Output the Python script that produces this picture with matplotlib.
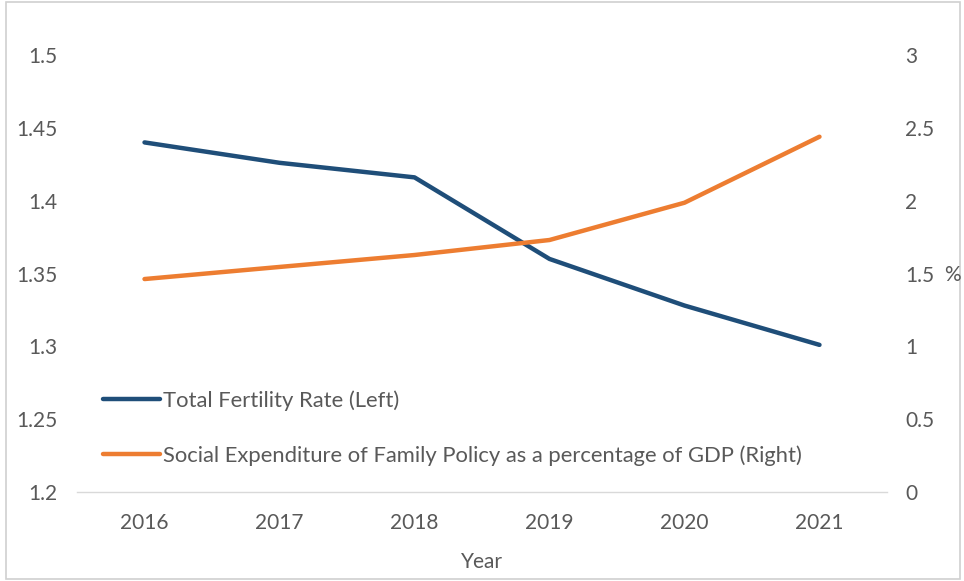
import matplotlib
matplotlib.use("Agg")
import matplotlib.pyplot as plt
from matplotlib.patches import Rectangle

years = ["2016", "2017", "2018", "2019", "2020", "2021"]
fertility = [1.440, 1.426, 1.416, 1.360, 1.328, 1.301]
family_spend = [1.462, 1.545, 1.627, 1.730, 1.986, 2.439]
left_ticks = [1.2, 1.25, 1.3, 1.35, 1.4, 1.45, 1.5]
left_labels = ["1.2", "1.25", "1.3", "1.35", "1.4", "1.45", "1.5"]
right_ticks = [0, 0.5, 1, 1.5, 2, 2.5, 3]
right_labels = ["0", "0.5", "1", "1.5", "2", "2.5", "3"]

plt.rcParams['font.family'] = ['Lato', 'DejaVu Sans']
tc = '#595959'
fs = 15

fig = plt.figure(figsize=(9.64, 5.81), dpi=100)
fig.patches.append(Rectangle((0.006, 0.004), 0.99, 0.992, transform=fig.transFigure,
                             fill=False, edgecolor='#d0d0d0', linewidth=1.2))
ax = fig.add_axes([0.0799, 0.1532, 0.8402, 0.7521])
ax2 = ax.twinx()

x = list(range(len(years)))
l1, = ax.plot(x, fertility, color='#1F4E79', linewidth=3.2, solid_capstyle='round',
              label='Total Fertility Rate (Left)', zorder=3)
l2, = ax2.plot(x, family_spend, color='#ED7D31', linewidth=3.2, solid_capstyle='round',
               label='Social Expenditure of Family Policy as a percentage of GDP (Right)', zorder=3)

ax.set_xlim(-0.5, len(years) - 0.5)
ax.set_ylim(1.2, 1.5)
ax2.set_ylim(0, 3)
ax.set_xticks(x)
ax.set_xticklabels(years)
ax.set_yticks(left_ticks)
ax.set_yticklabels(left_labels)
ax2.set_yticks(right_ticks)
ax2.set_yticklabels(right_labels)

for a in (ax, ax2):
    for s in a.spines.values():
        s.set_visible(False)
    a.tick_params(length=0, colors=tc, labelsize=fs)
ax.spines['bottom'].set_visible(True)
ax.spines['bottom'].set_color('#d9d9d9')
ax.spines['bottom'].set_linewidth(1)
ax.tick_params(axis='x', pad=15)
ax.tick_params(axis='y', pad=14)
ax2.tick_params(axis='y', pad=13)

ax.set_xlabel('Year', color=tc, fontsize=fs, labelpad=14)
fig.text(0.997, 0.5267, '%', color=tc, fontsize=fs, ha='right', va='center')

leg = ax.legend(handles=[l1, l2], loc='lower left', bbox_to_anchor=(0.032, 0.06),
                frameon=False, fontsize=15.8, labelcolor=tc, handlelength=2.6,
                handletextpad=0.15, labelspacing=1.55, borderpad=0, borderaxespad=0)

fig.savefig('out.png', dpi=100)
